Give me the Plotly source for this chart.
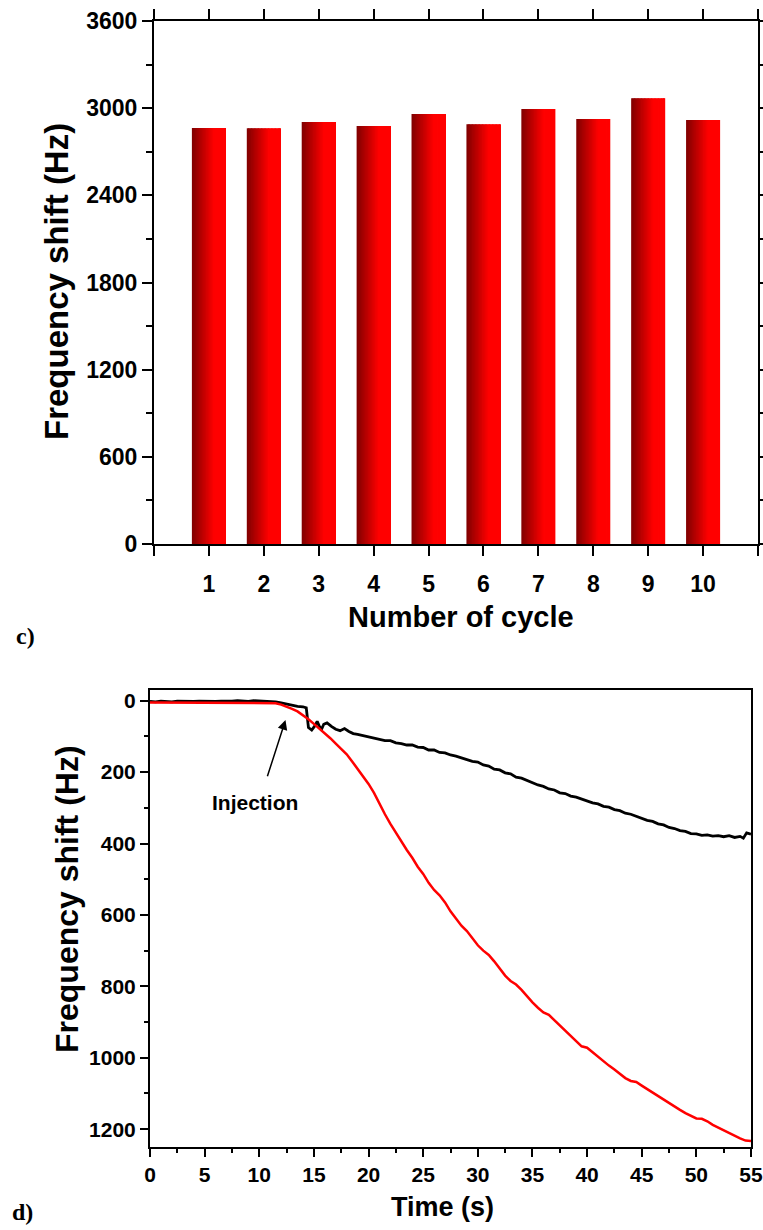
import plotly.graph_objects as go

# ---------------- data: panel c ----------------
cycles = [1, 2, 3, 4, 5, 6, 7, 8, 9, 10]
freq_shift = [2863, 2862, 2904, 2877, 2959, 2890, 2994, 2925, 3069, 2918]
cycle_ticks = [0, 1, 2, 3, 4, 5, 6, 7, 8, 9, 10, 11]
cycle_ticktext = ["", "1", "2", "3", "4", "5", "6", "7", "8", "9", "10", ""]

# ---------------- data: panel d ----------------
t_black = [0, 0.5, 1, 1.5, 2, 2.5, 3, 3.5, 4, 4.5, 5, 5.5, 6, 6.5, 7, 7.5, 8, 8.5, 9, 9.5,
           10, 10.5, 11, 11.5, 12, 12.5, 13, 13.5, 14, 14.3, 14.5, 14.8, 15.1, 15.3, 15.5,
           15.7, 15.9, 16.2, 16.6, 17.0, 17.4, 17.8, 18.2, 18.6, 19, 19.5, 20, 20.5, 21,
           21.5, 22, 22.5, 23, 23.5, 24, 24.5, 25, 25.5, 26, 26.5, 27, 27.5, 28, 28.5, 29,
           29.5, 30, 30.5, 31, 31.5, 32, 32.5, 33, 33.5, 34, 34.5, 35, 35.5, 36, 36.5, 37,
           37.5, 38, 38.5, 39, 39.5, 40, 40.5, 41, 41.5, 42, 42.5, 43, 43.5, 44, 44.5, 45,
           45.5, 46, 46.5, 47, 47.5, 48, 48.5, 49, 49.5, 50, 50.5, 51, 51.5, 52, 52.5, 53,
           53.5, 54, 54.3, 54.6, 55]
v_black = [2, 3, 1, 2, 3, 1, 2, 3, 2, 1, 2, 3, 2, 1, 2, 1, 0, 1, 2, 0,
           1, 2, 1, 3, 6, 10, 14, 16, 17, 20, 75, 82, 70, 58, 72,
           80, 66, 62, 72, 80, 84, 78, 86, 92, 94, 98, 100, 105, 108,
           112, 112, 118, 120, 124, 124, 130, 131, 138, 138, 145, 146, 152, 155, 160, 163,
           170, 172, 180, 183, 192, 194, 202, 205, 214, 217, 224, 229, 236, 240, 247, 250,
           258, 260, 267, 270, 276, 280, 286, 289, 296, 298, 305, 308, 315, 318, 324, 328,
           335, 338, 345, 348, 355, 358, 364, 366, 372, 373, 377, 376, 379, 378, 381, 378,
           383, 380, 385, 370, 374]

t_red = [0, 1, 2, 3, 4, 5, 5.5, 6, 7, 8, 9, 10, 10.5, 11, 11.5, 12, 12.5, 13, 13.5, 14,
         14.5, 15, 15.5, 16, 16.5, 17, 17.5, 18, 18.5, 19, 19.5, 20, 20.5, 21, 21.5, 22,
         22.5, 23, 23.5, 24, 24.5, 25, 25.5, 26, 26.5, 27, 27.5, 28, 28.5, 29, 29.5, 30,
         30.5, 31, 31.5, 32, 32.5, 33, 33.5, 34, 34.5, 35, 35.5, 36, 36.5, 37, 37.5, 38,
         38.5, 39, 39.5, 40, 40.5, 41, 41.5, 42, 42.5, 43, 43.5, 44, 44.5, 45, 45.5, 46,
         46.5, 47, 47.5, 48, 48.5, 49, 49.5, 50, 50.5, 51, 51.5, 52, 52.5, 53, 53.5, 54,
         54.5, 55]
v_red = [5, 5, 5, 5, 5, 6, 7, 6, 5, 5, 5, 5, 6, 6, 7, 11, 16, 23, 30, 40,
         52, 65, 78, 90, 105, 120, 135, 150, 170, 190, 212, 233, 258, 290, 318, 345,
         370, 395, 418, 440, 465, 485, 510, 530, 545, 565, 590, 610, 630, 645, 665, 685,
         700, 712, 730, 750, 770, 785, 795, 810, 828, 845, 860, 873, 880, 895, 910, 925,
         940, 955, 968, 972, 985, 998, 1010, 1022, 1033, 1045, 1057, 1065, 1068, 1078, 1088, 1098,
         1108, 1118, 1127, 1137, 1146, 1155, 1163, 1170, 1171, 1178, 1188, 1196, 1204, 1212, 1219, 1226,
         1232, 1233]

W, H = 763, 1230
FONT = "Liberation Sans, Arial, sans-serif"

fig = go.Figure()

# gradient bars: slices of each bar, dark red -> red
bar_w = 0.62
n_sl = 24
step = bar_w / n_sl
for i in range(n_sl):
    f = (i + 0.5) / n_sl
    g = min(f / 0.65, 1.0)
    r = int(round(128 + 127 * g))
    fig.add_trace(go.Bar(
        x=cycles, y=freq_shift, width=step * 1.6 if i < n_sl - 1 else step,
        offset=-bar_w / 2 + i * step,
        marker=dict(color=f"rgb({r},0,0)", line=dict(width=0)),
        xaxis="x", yaxis="y", showlegend=False, hoverinfo="skip"))

fig.add_trace(go.Scatter(x=t_black, y=v_black, mode="lines",
                         line=dict(color="black", width=2.8),
                         xaxis="x2", yaxis="y2", showlegend=False))
fig.add_trace(go.Scatter(x=t_red, y=v_red, mode="lines",
                         line=dict(color="#ff0000", width=2.5),
                         xaxis="x2", yaxis="y2", showlegend=False))

axcommon = dict(showgrid=False, zeroline=False, showline=True, linecolor="black",
                linewidth=2, ticks="outside", tickcolor="black", tickwidth=2,
                automargin=False,
                tickfont=dict(family=FONT, size=23, color="black", weight="bold"))

fig.update_layout(
    width=W, height=H, margin=dict(l=0, r=0, t=0, b=0, autoexpand=False),
    paper_bgcolor="white", plot_bgcolor="white", barmode="overlay",
    xaxis=dict(**axcommon, domain=[154 / W, 758 / W], range=[0, 11],
               tickvals=cycle_ticks, ticktext=cycle_ticktext, ticklen=10,
               mirror="ticks", anchor="y", ticklabelstandoff=8),
    yaxis=dict(**axcommon, domain=[1 - 544 / H, 1 - 21 / H], range=[0, 3600],
               tickvals=[0, 600, 1200, 1800, 2400, 3000, 3600], ticklen=10,
               minor=dict(dtick=300, ticklen=6, tickwidth=2, ticks="outside", tickcolor="black"),
               mirror="ticks", anchor="x"),
    xaxis2=dict(**axcommon, domain=[150 / W, 751 / W], range=[0, 55], dtick=5, ticklen=8,
                minor=dict(dtick=2.5, ticklen=4, tickwidth=2, ticks="outside", tickcolor="black"),
                mirror=True, anchor="y2"),
    yaxis2=dict(**axcommon, domain=[1 - 1147 / H, 1 - 690 / H], range=[1250, -30],
                tickvals=[0, 200, 400, 600, 800, 1000, 1200], ticklen=8,
                minor=dict(dtick=100, ticklen=4, tickwidth=2, ticks="outside", tickcolor="black"),
                mirror=True, anchor="x2"),
)
fig.layout.xaxis2.tickfont.size = 21
fig.layout.yaxis2.tickfont.size = 21

ann = []
def txt(x, y, s, size, angle=0, family=FONT):
    ann.append(dict(x=x / W, y=1 - y / H, xref="paper", yref="paper", text=s,
                    showarrow=False, textangle=angle, xanchor="center", yanchor="middle",
                    font=dict(family=family, size=size, color="black", weight="bold")))

txt(56, 282, "Frequency shift (Hz)", 33, -90)
txt(461, 617, "Number of cycle", 29)
txt(25, 636, "c)", 24, family="Liberation Serif, Times New Roman, serif")
txt(67, 899, "Frequency shift (Hz)", 32, -90)
txt(442, 1207, "Time (s)", 27)
txt(22, 1212, "d)", 24, family="Liberation Serif, Times New Roman, serif")

ann.append(dict(x=9.6, y=284, xref="x2", yref="y2", text="Injection", showarrow=False,
                font=dict(family=FONT, size=21, color="black", weight="bold")))
ann.append(dict(x=12.4, y=54, xref="x2", yref="y2", ax=10.7, ay=216,
                axref="x2", ayref="y2", text="", showarrow=True,
                arrowhead=2, arrowsize=1.3, arrowwidth=1.5, arrowcolor="black"))
fig.update_layout(annotations=ann)

fig.write_html("out.html")
